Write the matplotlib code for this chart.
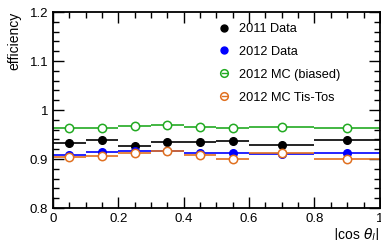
import numpy as np
import matplotlib
matplotlib.use("Agg")
import matplotlib.pyplot as plt
from matplotlib.ticker import MultipleLocator
from matplotlib.lines import Line2D

bin_edges = [0.0, 0.1, 0.2, 0.3, 0.4, 0.5, 0.6, 0.8, 1.0]

eff_2011 = [0.933, 0.939, 0.927, 0.934, 0.935, 0.937, 0.928, 0.939]
err_2011 = [0.005, 0.005, 0.005, 0.005, 0.005, 0.005, 0.004, 0.004]
eff_2012 = [0.909, 0.915, 0.917, 0.916, 0.912, 0.912, 0.911, 0.912]
err_2012 = [0.003, 0.003, 0.003, 0.003, 0.003, 0.003, 0.002, 0.002]
eff_mc_biased = [0.963, 0.964, 0.968, 0.970, 0.966, 0.963, 0.966, 0.964]
eff_mc_tistos = [0.904, 0.907, 0.913, 0.917, 0.908, 0.900, 0.912, 0.901]
err_mc = [0.002, 0.002, 0.002, 0.002, 0.002, 0.002, 0.002, 0.002]

labels = ['2011 Data', '2012 Data', '2012 MC (biased)', '2012 MC Tis-Tos']
colors = ['black', '#0000ff', '#22aa22', '#e07020']

edges = np.array(bin_edges)
xc = 0.5 * (edges[1:] + edges[:-1])
xw = 0.5 * (edges[1:] - edges[:-1])

plt.rcParams['font.family'] = ['Liberation Sans', 'DejaVu Sans']

fig = plt.figure(figsize=(3.81, 2.40), dpi=100)
ax = fig.add_axes([0.139, 0.133, 0.858, 0.817])

ax.errorbar(xc, eff_2011, xerr=xw, yerr=err_2011, fmt='o', color=colors[0],
            ms=5.5, lw=1.2, capsize=0)
ax.errorbar(xc, eff_2012, xerr=xw, yerr=err_2012, fmt='o', color=colors[1],
            ms=5.5, lw=1.2, capsize=0)
ax.errorbar(xc, eff_mc_biased, xerr=xw, yerr=err_mc, fmt='o', color=colors[2],
            mfc='white', ms=6, lw=1.2, mew=1.1, capsize=0)
ax.errorbar(xc, eff_mc_tistos, xerr=xw, yerr=err_mc, fmt='o', color=colors[3],
            mfc='white', ms=6, lw=1.2, mew=1.1, capsize=0)

ax.set_xlim(0, 1)
ax.set_ylim(0.8, 1.2)
ax.xaxis.set_minor_locator(MultipleLocator(0.05))
ax.yaxis.set_minor_locator(MultipleLocator(0.02))
ax.set_xticks([0, 0.2, 0.4, 0.6, 0.8, 1.0])
ax.set_xticklabels(['0', '0.2', '0.4', '0.6', '0.8', '1'])
ax.set_yticks([0.8, 0.9, 1.0, 1.1, 1.2])
ax.set_yticklabels(['0.8', '0.9', '1', '1.1', '1.2'])
ax.tick_params(which='both', direction='in', top=True, right=True, labelsize=9.5, width=1)
ax.tick_params(which='major', length=8)
ax.tick_params(which='minor', length=4)
for s in ax.spines.values():
    s.set_linewidth(1.3)

ax.set_xlabel(r'$|$cos $\theta_l|$', fontsize=10, loc='right', labelpad=1)
ax.set_ylabel('efficiency', fontsize=10, loc='top', labelpad=6)

handles = [
    Line2D([], [], marker='o', ls='none', color=colors[0], ms=5),
    Line2D([], [], marker='o', ls='none', color=colors[1], ms=5),
    Line2D([], [], marker='o', ls='-', lw=1.0, color=colors[2], mfc='none', ms=5.5, mew=1.1),
    Line2D([], [], marker='o', ls='-', lw=1.0, color=colors[3], mfc='none', ms=5.5, mew=1.1),
]
ax.legend(handles, labels, loc='upper left', bbox_to_anchor=(0.5, 0.97),
          frameon=False, fontsize=9.2, handlelength=0.45, handletextpad=0.9,
          labelspacing=0.85, borderaxespad=0)

fig.savefig('out.png', dpi=100)
